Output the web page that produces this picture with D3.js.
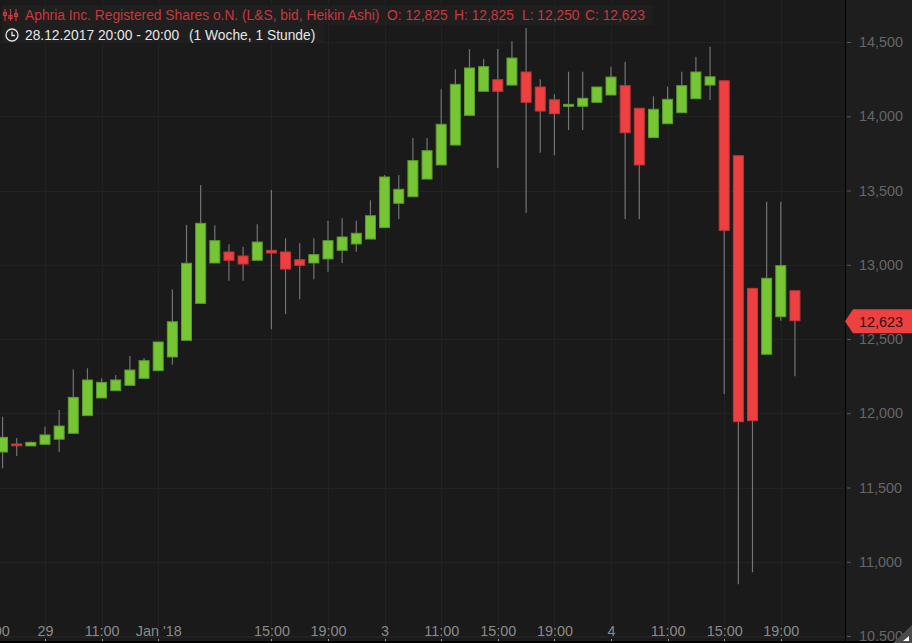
<!DOCTYPE html>
<html><head><meta charset="utf-8">
<script src="https://cdn.jsdelivr.net/npm/d3@7/dist/d3.min.js"></script>
<style>html,body{margin:0;padding:0;background:#1a1a1a;overflow:hidden}svg{display:block}text{font-family:"Liberation Sans",Arial,sans-serif}</style>
</head><body><svg id="c" width="912" height="643"></svg>
<script>
const opens=[11739,11793,11780,11791,11825,11865,11984,12103,12152,12188,12235,12287,12379,12491,12740,13012,13086,13059,13030,13097,13086,13034,13012,13039,13097,13140,13173,13250,13414,13458,13577,13672,13806,14006,14168,14246,14210,14298,14197,14111,14067,14067,14094,14143,14206,14054,13856,13950,14024,14118,14210,14239,13734,12841,12397,12650,12825];
const closes=[11838,11781,11804,11854,11914,12107,12224,12208,12224,12291,12354,12480,12616,13010,13279,13162,13030,13005,13153,13079,12971,12996,13068,13162,13187,13212,13330,13591,13508,13701,13768,13946,14215,14325,14334,14168,14392,14094,14035,14017,14080,14121,14197,14264,13889,13672,14047,14114,14206,14298,14266,13232,11943,11950,12909,12994,12623];
const highs=[11977,11833,11810,11909,12022,12296,12303,12235,12258,12386,12372,12480,12835,13268,13537,13266,13138,13122,13272,13503,13178,13146,13178,13297,13313,13297,13434,13604,13604,13854,13854,14181,14316,14453,14386,14453,14505,14594,14249,14148,14300,14300,14197,14334,14367,14054,14134,14199,14300,14401,14468,14239,13734,12841,13425,13425,12825];
const lows=[11629,11712,11780,11791,11739,11865,11984,12103,12152,12188,12235,12287,12327,12491,12740,13012,12893,12893,13030,12565,12668,12767,12902,12953,13012,13088,13173,13250,13308,13458,13577,13672,13806,14006,14168,13652,14210,13348,13755,13737,13907,13907,14094,14143,13308,13308,13856,13950,14024,14118,14109,12130,10848,10929,12397,12623,12250];
const priceTicks=[10500,11000,11500,12000,12500,13000,13500,14000,14500];
const timeTickIndex=[-0.8,3,7,11,19,23,27,31,35,39,43,47,51,55];
const timeTickLabels=["19:00","29","11:00","Jan '18","15:00","19:00","3","11:00","15:00","19:00","4","11:00","15:00","19:00"];
const titleText="Aphria Inc. Registered Shares o.N. (L&S, bid, Heikin Ashi)";
const ohlcLabels=["O: 12,825","H: 12,825","L: 12,250","C: 12,623"];
const dateText="28.12.2017 20:00 - 20:00";
const rangeText="(1 Woche, 1 Stunde)";
const lastPrice=12623;

const W=912,H=643,plotR=845,plotB=641;
const svg=d3.select("#c");
const x=d3.scaleLinear().domain([0,56]).range([2.55,794.95]);
const y=d3.scaleLinear().domain([14500,10500]).range([42,636]);
const fmt=d3.format(",");
const candles=opens.map((o,i)=>({i,o,c:closes[i],h:highs[i],l:lows[i]}));

svg.append("rect").attr("width",W).attr("height",H).attr("fill","#1a1a1a");
svg.append("rect").attr("x",plotR).attr("width",W-plotR).attr("height",H).attr("fill","#1e1e1e");
svg.append("defs").append("clipPath").attr("id","p").append("rect").attr("width",plotR).attr("height",plotB);

// grid
const g=svg.append("g").attr("clip-path","url(#p)");
g.selectAll(".h").data(priceTicks).join("line").attr("x1",0).attr("x2",plotR)
 .attr("y1",d=>Math.round(y(d))+.5).attr("y2",d=>Math.round(y(d))+.5).attr("stroke","#222");
g.selectAll(".v").data(timeTickIndex).join("line").attr("y1",0).attr("y2",plotB)
 .attr("x1",d=>Math.round(x(d))+.5).attr("x2",d=>Math.round(x(d))+.5).attr("stroke","#222");
g.append("line").attr("x1",0).attr("x2",plotR).attr("y1",637.5).attr("y2",637.5).attr("stroke","#222");

// candles
const bw=10;
const cg=g.selectAll(".k").data(candles).join("g");
cg.append("line").attr("x1",d=>x(d.i)).attr("x2",d=>x(d.i)).attr("y1",d=>y(d.h)).attr("y2",d=>y(d.l))
 .attr("stroke","#737373").attr("stroke-width",1.2);
cg.append("rect").attr("x",d=>x(d.i)-bw/2).attr("width",bw)
 .attr("y",d=>y(Math.max(d.o,d.c))).attr("height",d=>Math.abs(y(d.o)-y(d.c)))
 .attr("fill",d=>d.c>=d.o?"#76c634":"#ee4040")
 .attr("stroke",d=>d.c>=d.o?"#5d9a2e":"#c23539").attr("stroke-width",1);

// header panels
svg.append("rect").attr("x",2).attr("y",5).attr("width",651).attr("height",20).attr("fill","#1f1f1f");
svg.append("rect").attr("x",2).attr("y",25).attr("width",323).attr("height",18).attr("fill","#1f1f1f");
const red="#c8383c";
svg.append("text").attr("x",25).attr("y",20).attr("font-size",13.8).attr("fill",red).text(titleText);
const ohlcX=[387,454,522,585];
svg.selectAll(".o").data(ohlcLabels).join("text").attr("x",(d,i)=>ohlcX[i]).attr("y",20).attr("font-size",13.8).attr("fill",red).text(d=>d);
svg.append("text").attr("x",25).attr("y",40).attr("font-size",13.8).attr("fill","#e6e6e6").text(dateText);
svg.append("text").attr("x",189).attr("y",40).attr("font-size",13.8).attr("fill","#e6e6e6").text(rangeText);
// slider icon
const ic=svg.append("g").attr("stroke",red).attr("fill","none").attr("stroke-width",1.2);
[[5,9,21,14],[10.5,9,21,17],[16,9,21,15]].forEach(a=>{
 ic.append("line").attr("x1",a[0]).attr("x2",a[0]).attr("y1",a[1]).attr("y2",a[2]);
 ic.append("rect").attr("x",a[0]-1.5).attr("y",a[3]-1.5).attr("width",3).attr("height",3);
});
// clock icon
const ck=svg.append("g").attr("stroke","#e6e6e6").attr("fill","none").attr("stroke-width",1.3);
ck.append("circle").attr("cx",12).attr("cy",35).attr("r",6);
ck.append("path").attr("d","M12 31.5V35.5H15");

// axes
const yAxis=d3.axisRight(y).tickValues(priceTicks).tickFormat(fmt).tickSize(4).tickPadding(8);
const ya=svg.append("g").attr("transform",`translate(${plotR+2},0)`).call(yAxis);
ya.select(".domain").remove();
ya.selectAll("line").attr("stroke","#5a5a5a");
ya.selectAll("text").attr("font-size",14.4).attr("fill","#666").attr("font-family",'"Liberation Sans"').attr("x",12);

const xAxis=d3.axisBottom(x).tickValues(timeTickIndex).tickFormat((d,i)=>timeTickLabels[i]).tickSize(0);
const xa=svg.append("g").attr("transform","translate(0,0)").call(xAxis);
xa.select(".domain").remove();
xa.selectAll("text").attr("y",0).attr("dy",0).attr("transform","translate(0,635.5)").attr("font-size",14.4).attr("fill","#8a8a8a").attr("font-family",'"Liberation Sans"');
svg.selectAll(".xm").data(timeTickIndex).join("line").attr("x1",d=>Math.round(x(d))+.5).attr("x2",d=>Math.round(x(d))+.5)
 .attr("y1",639).attr("y2",641).attr("stroke","#9a9a9a");

// frame lines
svg.append("rect").attr("x",plotR).attr("y",0).attr("width",1).attr("height",H).attr("fill","#000");
svg.append("rect").attr("x",0).attr("y",plotB).attr("width",W).attr("height",2).attr("fill","#000");

// last price tag
const ty=y(lastPrice)+.5;
svg.append("path").attr("d",`M845 ${ty}L853 ${ty-12}H912V${ty+12}H853Z`).attr("fill","#ee4040");
svg.append("text").attr("x",859).attr("y",ty+5.3).attr("font-size",14.4).attr("fill","#2a1214").text(fmt(lastPrice));

// resize corner
svg.append("path").attr("d","M912 625V643H893Z").attr("fill","#4a4a4a");
svg.append("path").attr("d","M909 636V641H903Z").attr("fill","#fff");
</script></body></html>
